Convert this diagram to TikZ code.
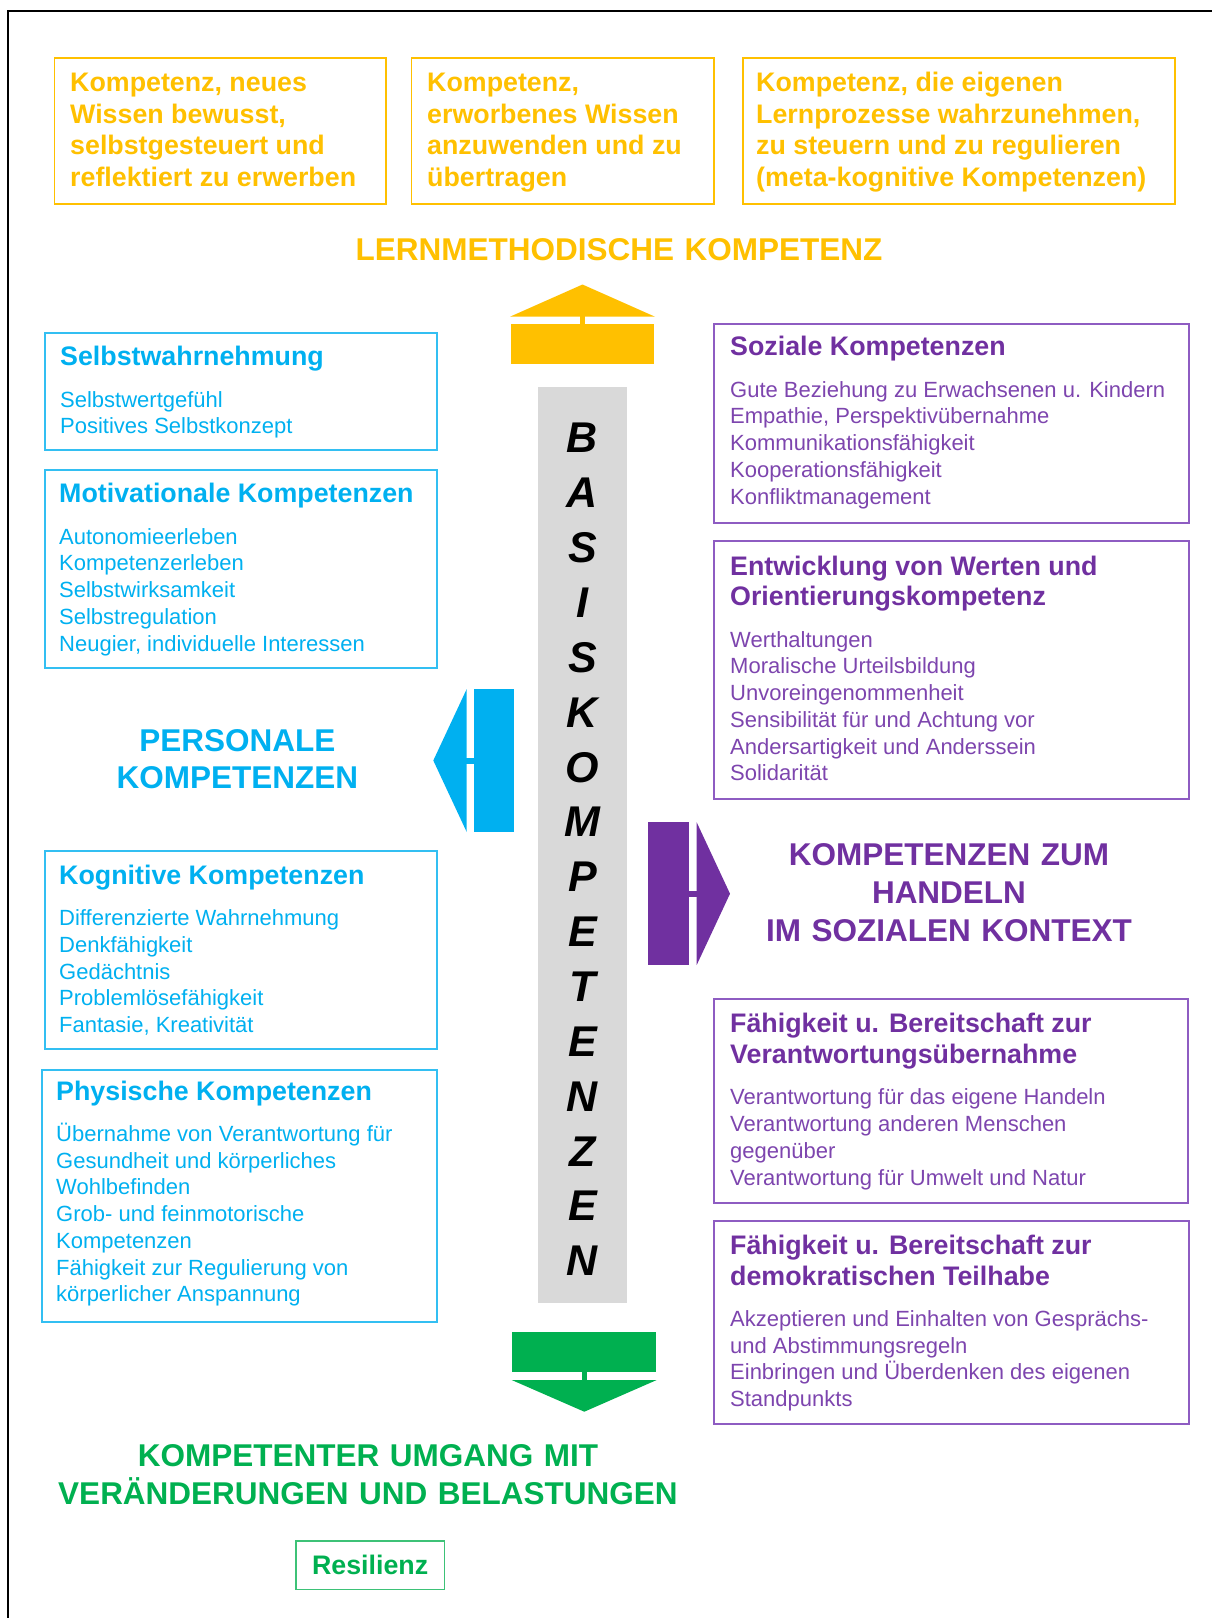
\documentclass[tikz,border=0pt]{standalone}
\usepackage{fontspec}
\setmainfont{Liberation Sans}
\setlength{\parindent}{0pt}
\definecolor{gold}{HTML}{FFC000}
\definecolor{cyanb}{HTML}{00B0F0}
\definecolor{cyanl}{HTML}{33BFF2}
\definecolor{purp}{HTML}{7030A0}
\definecolor{purpl}{HTML}{8E5CC2}
\definecolor{purpt}{HTML}{7D45AE}
\definecolor{grn}{HTML}{00B050}
\definecolor{grnl}{HTML}{3DC277}
\definecolor{barg}{HTML}{D9D9D9}
\newcommand\natspace{\spaceskip=0pt\xspaceskip=0pt\relax}
\newcommand\boxtitle[1]{{\fontsize{26.8}{30.7}\selectfont\bfseries\natspace #1\par}\vspace{14.8pt}}
\newcommand\boxbody[1]{{\fontsize{22}{26.7}\selectfont\natspace #1\par}}
\tikzset{
  box/.style={draw, line width=1.8pt, inner sep=0pt, anchor=north west},
  obox/.style={box, draw=gold},
  cbox/.style={box, draw=cyanl},
  pbox/.style={box, draw=purpl},
  txt/.style={anchor=base west, inner sep=0pt, align=flush left, text width=#1},
  otxt/.style={txt=#1, text=gold, font=\fontsize{26.8}{31.7}\selectfont\bfseries},
  head/.style={anchor=base, inner sep=0pt, align=center, text width=#1,
    font=\fontsize{31.5}{37.9}\selectfont\bfseries},
}
\begin{document}
\begin{tikzpicture}[x=1pt,y=-1pt]
\useasboundingbox (0,0) rectangle (1211,1618);
% frame
\draw[line width=2pt] (1212,11) -- (8,11) -- (8,1619);

% top orange boxes
\node[obox, minimum width=331.2pt, minimum height=146.5pt] (o1) at (53.6,56.7) {};
\node[obox, minimum width=302.3pt, minimum height=146.5pt] (o2) at (410.5,56.7) {};
\node[obox, minimum width=432.3pt, minimum height=146.5pt] (o3) at (741.7,56.7) {};
\node[otxt=310] (o1t) at (70,91.5) {\natspace Kompetenz, neues\\Wissen bewusst,\\selbstgesteuert und\\reflektiert zu erwerben};
\node[otxt=280] (o2t) at (427,91.5) {\natspace Kompetenz,\\erworbenes Wissen\\anzuwenden und zu\\übertragen};
\node[otxt=415] (o3t) at (756,91.5) {\natspace Kompetenz, die eigenen\\Lernprozesse wahrzunehmen,\\zu steuern und zu regulieren\\(meta-kognitive Kompetenzen)};

\node[head=700, text=gold] (lern) at (619,260) {LERNMETHODISCHE KOMPETENZ};

% yellow up arrow
\fill[gold] (582.5,284.5) -- (655,316.7) -- (510,316.7) -- cycle;
\fill[gold] (511,324) rectangle (654,364);
\fill[gold] (580,316) rectangle (585,324.5);

% grey bar with letters
\node[fill=barg, inner sep=0pt, minimum width=88.5pt, minimum height=916.2pt, anchor=north west] (bar) at (538,386.8) {};
\node[anchor=base, inner sep=0pt, align=center, text width=60pt,
  font=\fontsize{43}{54.87}\selectfont\bfseries\itshape] (basis) at (582.5,452.8)
  {B\\A\\S\\I\\S\\K\\O\\M\\P\\E\\T\\E\\N\\Z\\E\\N};

% left cyan boxes
\node[cbox, minimum width=392pt, minimum height=117pt] (selbst) at (44,332.3) {};
\node[txt=370, text=cyanb] (selbstt) at (60,365.7) {\boxtitle{Selbstwahrnehmung}\boxbody{Selbstwertgefühl\\Positives Selbstkonzept}};

\node[cbox, minimum width=392pt, minimum height=197.7pt] (motiv) at (44,469) {};
\node[txt=370, text=cyanb] (motivt) at (59,502.7) {\boxtitle{Motivationale Kompetenzen}\boxbody{Autonomieerleben\\Kompetenzerleben\\Selbstwirksamkeit\\Selbstregulation\\Neugier, individuelle Interessen}};

\node[cbox, minimum width=392pt, minimum height=198.3pt] (kogn) at (44,850) {};
\node[txt=370, text=cyanb] (kognt) at (59,884.3) {\boxtitle{Kognitive Kompetenzen}\boxbody{Differenzierte Wahrnehmung\\Denkfähigkeit\\Gedächtnis\\Problemlösefähigkeit\\Fantasie, Kreativität}};

\node[cbox, minimum width=395.3pt, minimum height=252pt] (phys) at (40.7,1068.7) {};
\node[txt=375, text=cyanb] (physt) at (56,1100) {\boxtitle{Physische Kompetenzen}\boxbody{Übernahme von Verantwortung für\\Gesundheit und körperliches\\Wohlbefinden\\Grob- und feinmotorische\\Kompetenzen\\Fähigkeit zur Regulierung von\\körperlicher Anspannung}};

% blue left arrow
\fill[cyanb] (433.3,760.5) -- (466.7,689) -- (466.7,832) -- cycle;
\fill[cyanb] (474,689) rectangle (514,832);
\fill[cyanb] (466,757.5) rectangle (474.5,763.5);
\node[head=300, text=cyanb] (pers) at (237.3,751) {PERSONALE\\KOMPETENZEN};

% right purple boxes
\node[pbox, minimum width=474.4pt, minimum height=199pt] (sozial) at (713.3,323.3) {};
\node[txt=450, text=purp] (sozialt) at (730,355.7) {\boxtitle{Soziale Kompetenzen}{\color{purpt}\boxbody{Gute Beziehung zu Erwachsenen u. Kindern\\Empathie, Perspektivübernahme\\Kommunikationsfähigkeit\\Kooperationsfähigkeit\\Konfliktmanagement}}};

\node[pbox, minimum width=474.4pt, minimum height=258.3pt] (entw) at (713.3,540) {};
\node[txt=450, text=purp] (entwt) at (730,575) {\boxtitle{Entwicklung von Werten und\\Orientierungskompetenz}{\color{purpt}\boxbody{Werthaltungen\\Moralische Urteilsbildung\\Unvoreingenommenheit\\Sensibilität für und Achtung vor\\Andersartigkeit und Anderssein\\Solidarität}}};

% purple right arrow
\fill[purp] (648.3,822.3) rectangle (689.3,965);
\fill[purp] (696.7,822.3) -- (730,893.7) -- (696.7,965) -- cycle;
\fill[purp] (689,890.7) rectangle (697,896.7);
\node[head=420, text=purp] (handeln) at (949,865.3) {KOMPETENZEN ZUM\\HANDELN\\IM SOZIALEN KONTEXT};

\node[pbox, minimum width=473.4pt, minimum height=203.4pt] (verant) at (713.3,998.3) {};
\node[txt=450, text=purp] (verantt) at (730,1032.7) {\boxtitle{Fähigkeit u. Bereitschaft zur\\Verantwortungsübernahme}{\color{purpt}\boxbody{Verantwortung für das eigene Handeln\\Verantwortung anderen Menschen\\gegenüber\\Verantwortung für Umwelt und Natur}}};

\node[pbox, minimum width=474.4pt, minimum height=203.3pt] (demo) at (713.3,1220) {};
\node[txt=450, text=purp] (demot) at (730,1254.3) {\boxtitle{Fähigkeit u. Bereitschaft zur\\demokratischen Teilhabe}{\color{purpt}\boxbody{Akzeptieren und Einhalten von Gesprächs-\\und Abstimmungsregeln\\Einbringen und Überdenken des eigenen\\Standpunkts}}};

% green down arrow
\fill[grn] (512.3,1331.7) rectangle (655.7,1372.3);
\fill[grn] (511.7,1380) -- (656.7,1380) -- (584.3,1411.7) -- cycle;
\fill[grn] (581.7,1372) rectangle (586.7,1380.5);
\node[head=700, text=grn] (umgang) at (368,1466.8) {KOMPETENTER UMGANG MIT\\VERÄNDERUNGEN UND BELASTUNGEN};

\node[box, draw=grnl, minimum width=148.5pt, minimum height=48.5pt, text=grn,
  font=\fontsize{26.8}{32}\selectfont\bfseries] (resil) at (295,1540) {Resilienz};
\end{tikzpicture}
\end{document}
